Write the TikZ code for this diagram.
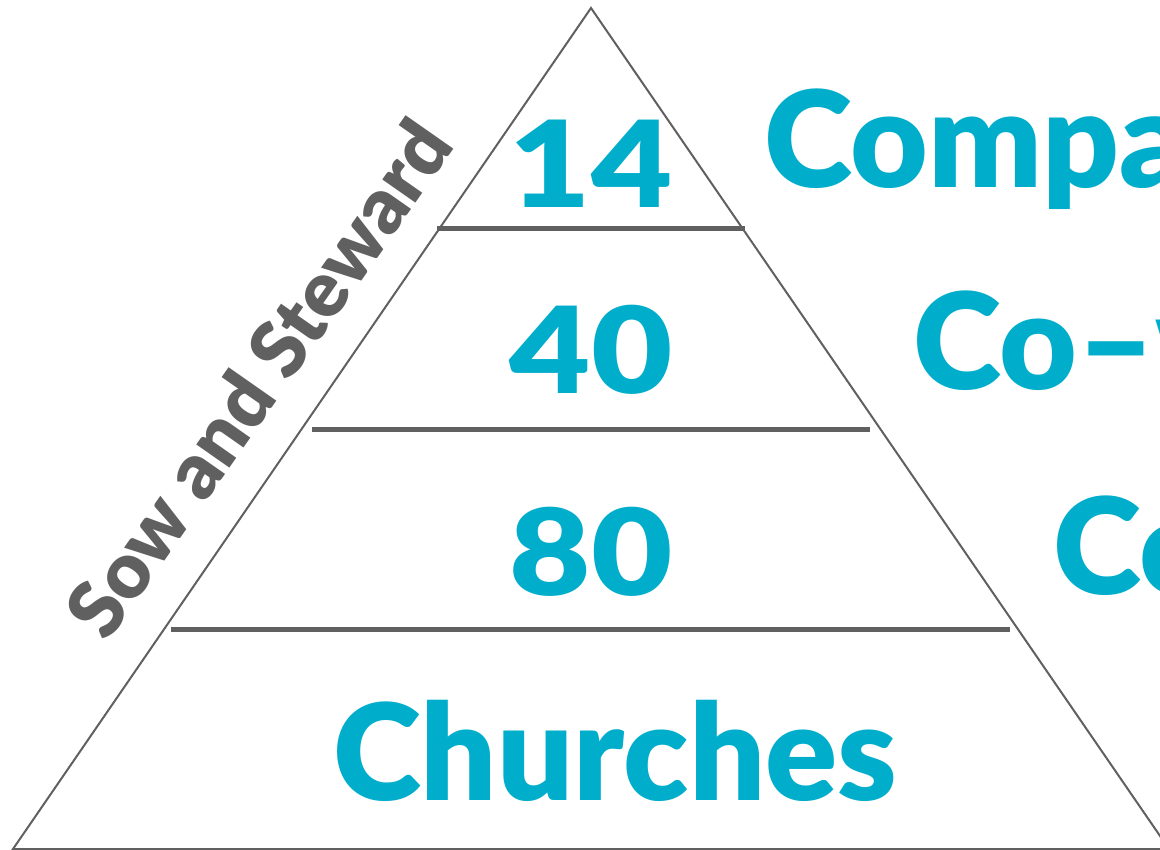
\documentclass[tikz,border=0pt]{standalone}
\usepackage{fontspec}
\setmainfont{Lato}[BoldFont={Lato Black}]
\definecolor{tealc}{HTML}{00AECB}
\definecolor{grayc}{HTML}{606060}
\begin{document}
\begin{tikzpicture}[x=1pt,y=-1pt,
  edge/.style={draw=grayc,line width=2pt,line join=miter},
  bar/.style={draw=grayc,line width=5pt},
  big/.style={text=tealc,font=\fontsize{120}{120}\selectfont\bfseries,inner sep=0pt,xscale=1.17},
  word/.style={text=tealc,font=\fontsize{134}{134}\selectfont\bfseries,inner sep=0pt,anchor=base west},
  side/.style={text=grayc,font=\fontsize{78}{78}\selectfont\bfseries,inner sep=0pt,rotate=55}]
\useasboundingbox (0,0) rectangle (1160,850);
\clip (0,0) rectangle (1160,850);
\coordinate (apex) at (591,8);
\coordinate (bl) at (13,849);
\coordinate (br) at (1169,849);
\draw[edge] (bl) -- (apex) -- (br) -- cycle;
\coordinate (b1l) at (437,229); \coordinate (b1r) at (745,229);
\coordinate (b2l) at (312,429); \coordinate (b2r) at (870,429);
\coordinate (b3l) at (171,629); \coordinate (b3r) at (1010,629);
\draw[bar] (b1l) -- (b1r);
\draw[bar] (b2l) -- (b2r);
\draw[bar] (b3l) -- (b3r);
\node[big,anchor=base] (n14) at (591,208) {14};
\node[big,anchor=base] (n40) at (591,394) {40};
\node[big,anchor=base] (n80) at (591,595) {80};
\node[word,anchor=base] (ch) at (615,800) {Churches};
\node[word] (comp) at (764,188) {Compa};
\node[word] (cow) at (913,390) {Co–w};
\node[word] (co) at (1053,594) {Co};
\node[side] (sow) at (258,378) {Sow and Steward};
\end{tikzpicture}
\end{document}
